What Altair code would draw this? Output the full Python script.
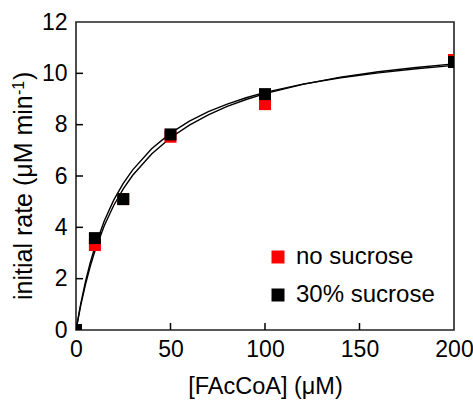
import altair as alt
import pandas as pd

# measured points
conc = [0, 10, 25, 50, 100, 200]
rate_no_sucrose = [0, 3.31, 5.10, 7.53, 8.80, 10.52]
rate_30_sucrose = [0, 3.58, 5.10, 7.62, 9.19, 10.44]
series_names = ["no sucrose", "30% sucrose"]

# fitted curves
fit_x = [0, 2.5, 5, 7.5, 10, 15, 20, 25, 30, 40, 50, 60, 70, 80, 90, 100, 120, 140, 160, 180, 200]
fit_30 = [0, 1.02, 1.88, 2.61, 3.24, 4.26, 5.07, 5.71, 6.24, 7.06, 7.67, 8.14, 8.51, 8.80, 9.05,
          9.26, 9.58, 9.83, 10.02, 10.18, 10.31]
fit_no = [0, 0.96, 1.77, 2.47, 3.08, 4.07, 4.86, 5.50, 6.03, 6.86, 7.49, 7.98, 8.38, 8.71, 8.98,
          9.21, 9.57, 9.85, 10.06, 10.23, 10.37]

x_ticks = [50, 100, 150]
y_ticks = [2, 4, 6, 8, 10]
x_labels = [0, 50, 100, 150, 200]
y_labels = [0, 2, 4, 6, 8, 10, 12]

x_title = "[FAcCoA] (μM)"
y_title_main = "initial rate (μM min"
y_title_sup = "-1"
y_title_end = ")"

pts = pd.DataFrame({
    "conc": conc + conc,
    "rate": rate_no_sucrose + rate_30_sucrose,
    "series": [series_names[0]] * len(conc) + [series_names[1]] * len(conc),
})
fits = pd.DataFrame({
    "conc": fit_x + fit_x,
    "rate": fit_no + fit_30,
    "series": ["fit no"] * len(fit_x) + ["fit 30"] * len(fit_x),
})

FONT = "Liberation Sans"
xscale = alt.Scale(domain=[0, 200], nice=False, zero=False)
yscale = alt.Scale(domain=[0, 12], nice=False, zero=False)

xax = alt.Axis(values=x_labels, title=x_title, labelPadding=8, labelFlush=False,
               titleY=63, titleBaseline="alphabetic", titleFontSize=23.5)
yax = alt.Axis(values=y_labels, title=None, labelPadding=9, labelFlush=False)

lines = alt.Chart(fits).mark_line(color="black", strokeWidth=1.4, clip=True).encode(
    x=alt.X("conc:Q", scale=xscale, axis=xax),
    y=alt.Y("rate:Q", scale=yscale, axis=yax),
    detail="series:N",
)

points = alt.Chart(pts).mark_square(size=144, opacity=1, clip=True).encode(
    x=alt.X("conc:Q", scale=xscale),
    y=alt.Y("rate:Q", scale=yscale),
    color=alt.Color("series:N", sort=series_names,
                    scale=alt.Scale(domain=series_names, range=["#ff0000", "#000000"]),
                    legend=alt.Legend(title=None, orient="none", legendX=190, legendY=223,
                                      symbolType="square", symbolSize=169, symbolStrokeWidth=0,
                                      labelFontSize=24, labelFont=FONT, labelOffset=6,
                                      rowPadding=14, padding=0, labelColor="black")),
)

xt = alt.Chart(pd.DataFrame({"t": x_ticks})).mark_rule(color="black", strokeWidth=1.5).encode(
    x=alt.X("t:Q", scale=xscale), y=alt.value(308), y2=alt.value(301))
yt = alt.Chart(pd.DataFrame({"t": y_ticks})).mark_rule(color="black", strokeWidth=1.5).encode(
    y=alt.Y("t:Q", scale=yscale), x=alt.value(0), x2=alt.value(7))

def title_piece(txt, size, xpos, ypos):
    return alt.Chart(pd.DataFrame({"t": [txt]})).mark_text(
        angle=270, align="left", baseline="alphabetic", font=FONT, fontSize=size, color="black"
    ).encode(text="t:N", x=alt.value(xpos), y=alt.value(ypos))

yt_main = title_piece(y_title_main, 25, -44, 278)
yt_sup = title_piece(y_title_sup, 16, -52, 73)
yt_end = title_piece(y_title_end, 25, -44, 58)

chart = alt.layer(lines, points, xt, yt, yt_main, yt_sup, yt_end).properties(
    width=378, height=308,
    autosize=alt.AutoSizeParams(type="none"),
    padding={"left": 76, "top": 22, "right": 19, "bottom": 70},
).configure_view(stroke="#222222", strokeWidth=1.6).configure_axis(
    domain=False, ticks=False, grid=False, labelFont=FONT, labelFontSize=23, labelColor="black",
    titleFont=FONT, titleFontSize=23.5, titleFontWeight="normal", titleColor="black",
)

chart.save("out.html", embed_options={"renderer": "svg", "actions": False})
